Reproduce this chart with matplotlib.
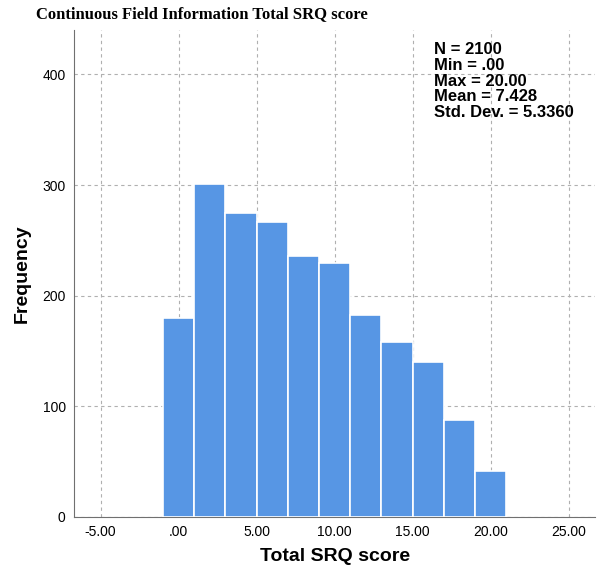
import matplotlib
matplotlib.use("Agg")
import matplotlib.pyplot as plt

bin_centers = [0, 2, 4, 6, 8, 10, 12, 14, 16, 18, 20]
counts = [180, 301, 275, 267, 236, 230, 183, 158, 140, 88, 42]
xticks = [-5, 0, 5, 10, 15, 20, 25]
xticklabels = ["-5.00", ".00", "5.00", "10.00", "15.00", "20.00", "25.00"]
yticks = [0, 100, 200, 300, 400]
stats = "N = 2100\nMin = .00\nMax = 20.00\nMean = 7.428\nStd. Dev. = 5.3360"

fig = plt.figure(figsize=(5.97, 5.70), dpi=100)
ax = fig.add_axes([0.124, 0.093, 0.873, 0.854])
ax.bar(bin_centers, counts, width=2, color="#5796e4", edgecolor="white", linewidth=1.2, zorder=3)
ax.set_xlim(-6.7, 26.7)
ax.set_ylim(0, 440)
ax.set_xticks(xticks)
ax.set_xticklabels(xticklabels, fontfamily="Liberation Sans", fontsize=10)
ax.set_yticks(yticks)
ax.set_yticklabels([str(v) for v in yticks], fontfamily="Liberation Sans", fontsize=10)
ax.tick_params(length=0, pad=6)
ax.grid(True, linestyle=(0, (3, 3)), color="#b0b0b0", linewidth=0.8, zorder=0)
for s in ["top", "right"]:
    ax.spines[s].set_visible(False)
ax.spines["left"].set_color("#707070")
ax.spines["bottom"].set_color("#707070")
ax.set_xlabel("Total SRQ score", fontfamily="Liberation Sans", fontweight="bold", fontsize=14, labelpad=6)
ax.set_ylabel("Frequency", fontfamily="Liberation Sans", fontweight="bold", fontsize=14, labelpad=8)
fig.text(0.06, 0.975, "Continuous Field Information Total SRQ score", fontfamily="Liberation Serif",
         fontweight="bold", fontsize=12, va="center", ha="left")
ax.text(0.69, 0.975, stats, transform=ax.transAxes, fontfamily="Liberation Sans", fontweight="bold",
        fontsize=12, va="top", ha="left", linespacing=1.05)
fig.savefig("out.png", dpi=100)
